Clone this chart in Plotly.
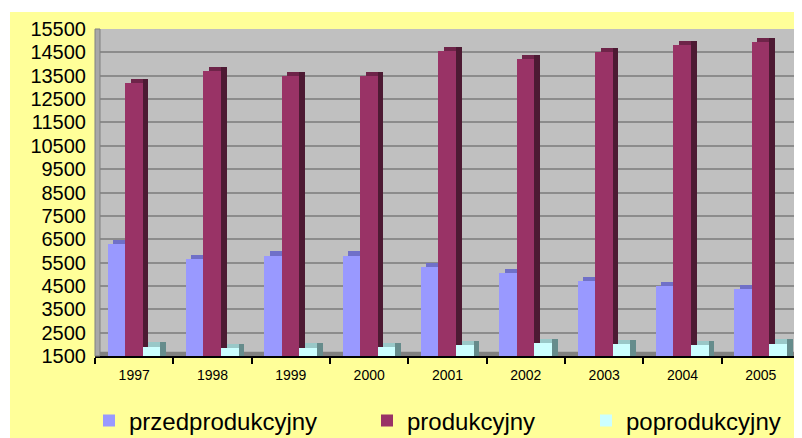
import plotly.graph_objects as go

years = ['1997', '1998', '1999', '2000', '2001', '2002', '2003', '2004', '2005']
przedprodukcyjny = [6300, 5650, 5800, 5800, 5300, 5050, 4700, 4500, 4350]
produkcyjny = [13200, 13700, 13500, 13500, 14550, 14200, 14500, 14800, 14950]
poprodukcyjny = [1900, 1830, 1860, 1870, 1970, 2040, 2010, 1970, 2030]

series = [
    ("przedprodukcyjny", przedprodukcyjny, "#9999FF", "#7070C8", "#5C5CA8", "legend"),
    ("produkcyjny", produkcyjny, "#993366", "#6E2449", "#4D1A33", "legend2"),
    ("poprodukcyjny", poprodukcyjny, "#CCFFFF", "#99C8C8", "#668C8C", "legend3"),
]
offsets = [-0.34, -0.115, 0.11]
W = 0.225
DX = 0.07
DY = 180
FONT = "Liberation Sans, Arial, sans-serif"

fig = go.Figure()
for (name, vals, front, top, side, lg), off in zip(series, offsets):
    # top face (depth)
    fig.add_trace(go.Bar(x=years, y=vals, base=DY, offset=off + DX, width=W,
                         marker=dict(color=top, line=dict(width=0)),
                         showlegend=False, hoverinfo="skip"))
    # side face (depth)
    fig.add_trace(go.Bar(x=years, y=vals, base=DY, offset=off + W, width=DX,
                         marker=dict(color=side, line=dict(width=0)),
                         showlegend=False, hoverinfo="skip"))
    # front face
    fig.add_trace(go.Bar(x=years, y=vals, offset=off, width=W, name=name,
                         marker=dict(color=front, line=dict(width=0)),
                         legend=lg))

# page body has an 8px margin; figure is sized/placed accordingly
OFF = 8
FW, FH = 802 - OFF, 438 - OFF
L, R, T, B = 95 - OFF, 2, 29 - OFF, 438 - 356
PW, PH = FW - L - R, FH - T - B

def px_x(px):  # reference page px -> paper x
    return (px - OFF - L) / PW

def px_y(py):  # reference page py -> paper y
    return (FH - B - (py - OFF)) / PH

def cx(px):
    return (px - OFF) / FW

def cy(py):
    return 1 - (py - OFF) / FH

shapes = [
    # floor strip
    dict(type="rect", xref="paper", yref="y", x0=0, x1=1, y0=1500, y1=1500 + DY,
         fillcolor="#808080", line=dict(width=0), layer="below"),
    # left wall edge
    dict(type="rect", xref="paper", yref="paper", x0=0, x1=px_x(100), y0=0, y1=1,
         fillcolor="#A8A8A8", line=dict(color="#808080", width=1), layer="above"),
    # white margins outside chart area
    dict(type="rect", xref="paper", yref="paper", x0=px_x(0), x1=px_x(810),
         y0=px_y(12), y1=px_y(0), fillcolor="white", line=dict(width=0), layer="above"),
    dict(type="rect", xref="paper", yref="paper", x0=px_x(0), x1=px_x(10),
         y0=px_y(450), y1=px_y(0), fillcolor="white", line=dict(width=0), layer="above"),
]

leg_common = dict(orientation="h", yanchor="middle", xanchor="left",
                  xref="container", yref="container",
                  font=dict(family=FONT, size=24, color="black"),
                  bgcolor="rgba(0,0,0,0)", borderwidth=0, itemwidth=30)

fig.update_layout(
    width=FW, height=FH,
    margin=dict(l=L, r=R, t=T, b=B, pad=0, autoexpand=False),
    paper_bgcolor="#FFFF99",
    plot_bgcolor="#C0C0C0",
    barmode="overlay",
    bargap=0,
    shapes=shapes,
    legend=dict(x=cx(89), y=cy(421), **leg_common),
    legend2=dict(x=cx(367), y=cy(421), **leg_common),
    legend3=dict(x=cx(586), y=cy(421), **leg_common),
    xaxis=dict(
        type="category", tickson="boundaries", ticks="outside", ticklen=6,
        tickwidth=2, tickcolor="black", showline=True, linecolor="black",
        linewidth=2, showgrid=False, range=[-0.5, 8.5], ticklabelstandoff=5,
        tickfont=dict(family=FONT, size=14, color="black"),
    ),
    yaxis=dict(
        range=[1500, 15500], tick0=1500, dtick=1000, tickformat="d",
        showgrid=True, gridcolor="#8C8C8C", gridwidth=2, zeroline=False,
        showline=False, ticks="", ticklabelstandoff=8,
        tickfont=dict(family=FONT, size=20, color="black"),
    ),
)

fig.write_html("out.html")
